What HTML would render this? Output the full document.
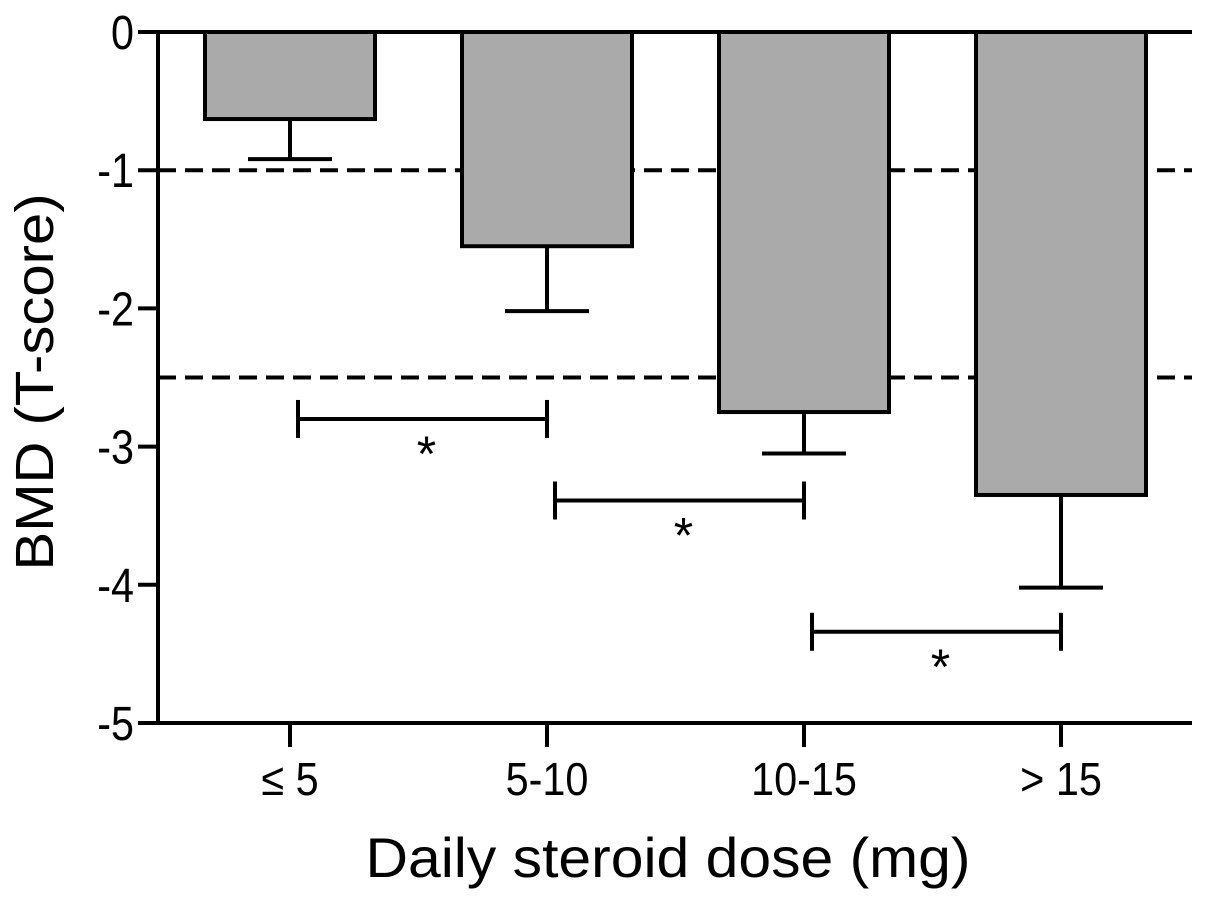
<!DOCTYPE html>
<html><head><meta charset="utf-8"><style>
body{margin:0;background:#fff}
svg text{font-family:"Liberation Sans",Arial,sans-serif;fill:#000}
</style></head><body>
<svg id="chart" width="1205" height="901" xmlns="http://www.w3.org/2000/svg"></svg>
<script>
const categories=["≤ 5","5-10","10-15","> 15"];
const means=[-0.63,-1.55,-2.75,-3.35];
const errLow=[-0.92,-2.02,-3.05,-4.02];
const yTicks=[0,-1,-2,-3,-4,-5];
const refLines=[-1,-2.5];
const sigFrom=[0,1,2];
const sigTo=[1,2,3];
const sigY=[-2.8,-3.39,-4.34];

const svg=document.getElementById('chart');
const NS='http://www.w3.org/2000/svg';
const x0=158,x1=1192,yTop=32,yBot=723;
const y=v=>yTop+(0-v)/5*(yBot-yTop);
const cx=i=>290+i*257;
const bw=170;
function el(t,a,p){const e=document.createElementNS(NS,t);for(const k in a)e.setAttribute(k,a[k]);(p||svg).appendChild(e);return e;}
function txt(s,x,yy,size,anchor,sx,p){
 const t=el('text',{x:0,y:0,'font-size':size,'text-anchor':anchor,transform:`translate(${x},${yy}) scale(${sx},1)`},p);
 t.textContent=s;return t;
}

refLines.forEach((v,i)=>{
 const l=el('line',{x1:x0,x2:x1,y1:y(v),y2:y(v),stroke:'#000','stroke-width':4,'stroke-dasharray':'18 9'});
 
 
});
means.forEach((m,i)=>{
 const g=el('g',{});
 
 
 el('line',{x1:cx(i),x2:cx(i),y1:y(m),y2:y(errLow[i]),stroke:'#000','stroke-width':4},g);
 el('line',{x1:cx(i)-42,x2:cx(i)+42,y1:y(errLow[i]),y2:y(errLow[i]),stroke:'#000','stroke-width':4},g);
 el('rect',{x:cx(i)-bw/2,y:y(0),width:bw,height:y(m)-y(0),fill:'#aaaaaa',stroke:'#000','stroke-width':4},g);
});
sigFrom.forEach((a,i)=>{
 const g=el('g',{});
 
 
 const xa=cx(a)+8,xb=cx(sigTo[i]),yy=y(sigY[i]);
 el('line',{x1:xa,x2:xb,y1:yy,y2:yy,stroke:'#000','stroke-width':4},g);
 el('line',{x1:xa,x2:xa,y1:yy-19,y2:yy+19,stroke:'#000','stroke-width':4},g);
 el('line',{x1:xb,x2:xb,y1:yy-19,y2:yy+19,stroke:'#000','stroke-width':4},g);
 txt('*',(xa+xb)/2+4,yy+52,50,'middle',1,g);
});
// axes
const ax=el('g',{});


el('line',{x1:x0,x2:x0,y1:yTop-2,y2:yBot+2,stroke:'#000','stroke-width':4},ax);
el('line',{x1:x0-20,x2:x1,y1:yTop,y2:yTop,stroke:'#000','stroke-width':4},ax);
yTicks.forEach(v=>{
 el('line',{x1:x0-20,x2:x0,y1:y(v),y2:y(v),stroke:'#000','stroke-width':4},ax);
 txt(String(v),x0-24,y(v)+17,48,'end',0.86,ax);
});
const xa=el('g',{});


el('line',{x1:x0,x2:x1,y1:yBot,y2:yBot,stroke:'#000','stroke-width':4},xa);
categories.forEach((c,i)=>{
 el('line',{x1:cx(i),x2:cx(i),y1:yBot,y2:yBot+24,stroke:'#000','stroke-width':4},xa);
 txt(c,cx(i),795,46,'middle',0.9,xa);
});
const yt=el('text',{x:0,y:0,'font-size':54,'text-anchor':'middle',textLength:377,lengthAdjust:'spacingAndGlyphs',transform:'translate(53,382) rotate(-90)'});
yt.textContent='BMD (T-score)';


const xt=el('text',{x:668,y:877,'font-size':56,'text-anchor':'middle',textLength:605,lengthAdjust:'spacingAndGlyphs'});
xt.textContent='Daily steroid dose (mg)';


</script>
</body></html>
